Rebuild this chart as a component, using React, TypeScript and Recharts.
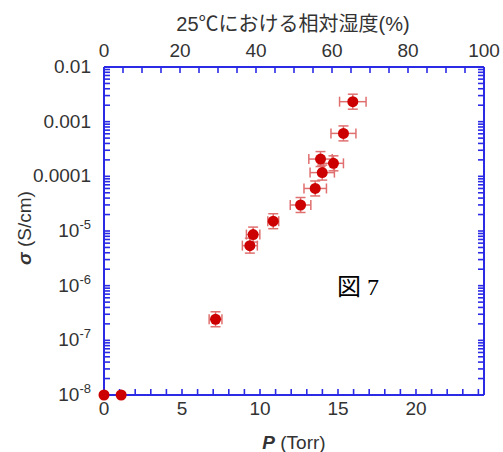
import React from 'react';
import { ScatterChart, Scatter, XAxis, YAxis, ErrorBar } from 'recharts';

// ---- data ----
const pressure = [0, 1.1, 7.15, 9.35, 9.56, 10.85, 12.6, 13.54, 13.99, 13.88, 14.71, 15.35, 15.95];
const sigma = [1e-8, 1e-8, 2.43e-7, 5.4e-6, 8.6e-6, 1.51e-5, 2.99e-5, 6.0e-5, 1.17e-4, 2.07e-4, 1.73e-4, 6.1e-4, 2.32e-3];
const pressureErr = [0, 0, 0.41, 0.48, 0.43, 0.35, 0.66, 0.72, 0.78, 0.75, 0.64, 0.8, 0.85];
const sigmaErrDecades = [0, 0, 0.137, 0.137, 0.137, 0.137, 0.137, 0.137, 0.137, 0.137, 0.137, 0.137, 0.137];

const pressureTicks = [0, 1, 2, 3, 4, 5, 6, 7, 8, 9, 10, 11, 12, 13, 14, 15, 16, 17, 18, 19, 20, 21, 22, 23, 24];
const pressureLabels = [0, 5, 10, 15, 20];
const rhTicks = [0, 5, 10, 15, 20, 25, 30, 35, 40, 45, 50, 55, 60, 65, 70, 75, 80, 85, 90, 95, 100];
const rhLabels = [0, 20, 40, 60, 80, 100];
const sigmaDecadeExps = [-8, -7, -6, -5, -4, -3, -2];
const sigmaDecimalLabels: Record<number, string> = { [-2]: '0.01', [-3]: '0.001', [-4]: '0.0001' };
const minorMultipliers = [2, 3, 4, 5, 6, 7, 8, 9];

const P_DOMAIN: [number, number] = [0, 24.36];
const RH_DOMAIN: [number, number] = [0, 100];
const S_DOMAIN: [number, number] = [1e-8, 1e-2];

const sigmaTicks: number[] = [];
sigmaDecadeExps.forEach((e, i) => {
  sigmaTicks.push(Math.pow(10, e));
  if (i < sigmaDecadeExps.length - 1) minorMultipliers.forEach((m) => sigmaTicks.push(m * Math.pow(10, e)));
});

const isDecade = (v: number) => Math.abs(Math.log10(v) - Math.round(Math.log10(v))) < 1e-9;

const rows = pressure.map((p, i) => {
  const s = sigma[i];
  const f = Math.pow(10, sigmaErrDecades[i]);
  return { p, s, ep: pressureErr[i], es: [s - s / f, s * f - s] };
});

// ---- style ----
const BLUE = '#2b2be6';
const RED = '#cc0000';
const ERR = '#e07070';
const FONT = '"Liberation Sans", Arial, "Noto Sans CJK JP", sans-serif';
const FS = 19;
const TEXT = '#333';
const TICK = 6; // inward tick length (built-in tick lines, negative size)

const BottomLabel = (props: any) => {
  const { x, y, payload } = props;
  const v = payload.value;
  if (!pressureLabels.includes(v)) return <g />;
  return (
    <text x={x} y={Number(y) + TICK + 20} textAnchor="middle" fontFamily={FONT} fontSize={FS} fill={TEXT}>
      {v}
    </text>
  );
};

const TopLabel = (props: any) => {
  const { x, y, payload } = props;
  const v = payload.value;
  if (!rhLabels.includes(v)) return <g />;
  return (
    <text x={x} y={Number(y) - TICK - 10} textAnchor="middle" fontFamily={FONT} fontSize={FS} fill={TEXT}>
      {v}
    </text>
  );
};

const LeftLabel = (props: any) => {
  const { x, y, payload } = props;
  const v = payload.value;
  if (!isDecade(v)) return <g />;
  const e = Math.round(Math.log10(v));
  return (
    <text x={Number(x) - TICK - 13} y={Number(y) + 6} textAnchor="end" fontFamily={FONT} fontSize={FS} fill={TEXT}>
      {sigmaDecimalLabels[e] !== undefined ? (
        sigmaDecimalLabels[e]
      ) : (
        <>
          10
          <tspan dy={-8} fontSize={13}>
            {e}
          </tspan>
        </>
      )}
    </text>
  );
};

const Dot = (props: any) => <circle cx={props.cx} cy={props.cy} r={5.5} fill={RED} />;
const NoMark = () => <g />;

export default function App() {
  const axisLine = { stroke: BLUE, strokeWidth: 2 };
  const tickLine = { stroke: BLUE, strokeWidth: 1.6 };
  return (
    <div style={{ position: 'absolute', left: 0, top: 0, width: 503, height: 452, background: '#fff' }}>
      <ScatterChart width={503} height={452} margin={{ top: 37, right: 9, bottom: 27, left: 44 }}>
        <XAxis
          xAxisId="bottom"
          type="number"
          dataKey="p"
          orientation="bottom"
          domain={P_DOMAIN}
          ticks={pressureTicks}
          interval={0}
          height={30}
          axisLine={axisLine}
          tickLine={tickLine}
          tickSize={-TICK}
          tickMargin={0}
          tick={<BottomLabel />}
        />
        <XAxis
          xAxisId="top"
          type="number"
          dataKey="p"
          orientation="top"
          domain={RH_DOMAIN}
          allowDataOverflow
          ticks={rhTicks}
          interval={0}
          height={30}
          axisLine={axisLine}
          tickLine={tickLine}
          tickSize={-TICK}
          tickMargin={0}
          tick={<TopLabel />}
        />
        <YAxis
          yAxisId="left"
          type="number"
          dataKey="s"
          scale="log"
          domain={S_DOMAIN}
          ticks={sigmaTicks}
          interval={0}
          width={60}
          axisLine={axisLine}
          tickLine={tickLine}
          tickSize={-TICK}
          tickMargin={0}
          tick={<LeftLabel />}
        />
        <YAxis
          yAxisId="right"
          type="number"
          dataKey="s"
          orientation="right"
          scale="log"
          domain={S_DOMAIN}
          allowDataOverflow
          ticks={sigmaTicks}
          interval={0}
          width={10}
          axisLine={axisLine}
          tickLine={tickLine}
          tickSize={-TICK}
          tickMargin={0}
          tick={<NoMark />}
        />
        {/* invisible series that binds the mirrored top/right axes */}
        <Scatter xAxisId="top" yAxisId="right" data={rows} shape={<NoMark />} isAnimationActive={false} />
        <Scatter xAxisId="bottom" yAxisId="left" data={rows} shape={<Dot />} isAnimationActive={false}>
          <ErrorBar dataKey="ep" direction="x" width={5} stroke={ERR} strokeWidth={1.5} isAnimationActive={false} />
          <ErrorBar dataKey="es" direction="y" width={5} stroke={ERR} strokeWidth={1.5} isAnimationActive={false} />
        </Scatter>
      </ScatterChart>
      <svg width={503} height={452} style={{ position: 'absolute', left: 0, top: 0, pointerEvents: 'none' }}>
        <text x={293} y={31} textAnchor="middle" fontFamily={FONT} fontSize={20} fill={TEXT}>
          25℃における相対湿度(%)
        </text>
        <text x={294} y={449} textAnchor="middle" fontFamily={FONT} fontSize={FS} fill={TEXT}>
          <tspan fontWeight="bold" fontStyle="italic">P</tspan> (Torr)
        </text>
        <text transform="translate(31,228) rotate(-90)" textAnchor="middle" fontFamily={FONT} fontSize={FS} fill={TEXT}>
          <tspan fontWeight="bold" fontStyle="italic">σ</tspan> (S/cm)
        </text>
        <text x={337} y={295} fontSize={24} fill="#000">
          <tspan fontFamily='"Noto Sans CJK JP", sans-serif'>図</tspan>
          <tspan fontFamily='"Liberation Serif", serif'> 7</tspan>
        </text>
      </svg>
    </div>
  );
}
